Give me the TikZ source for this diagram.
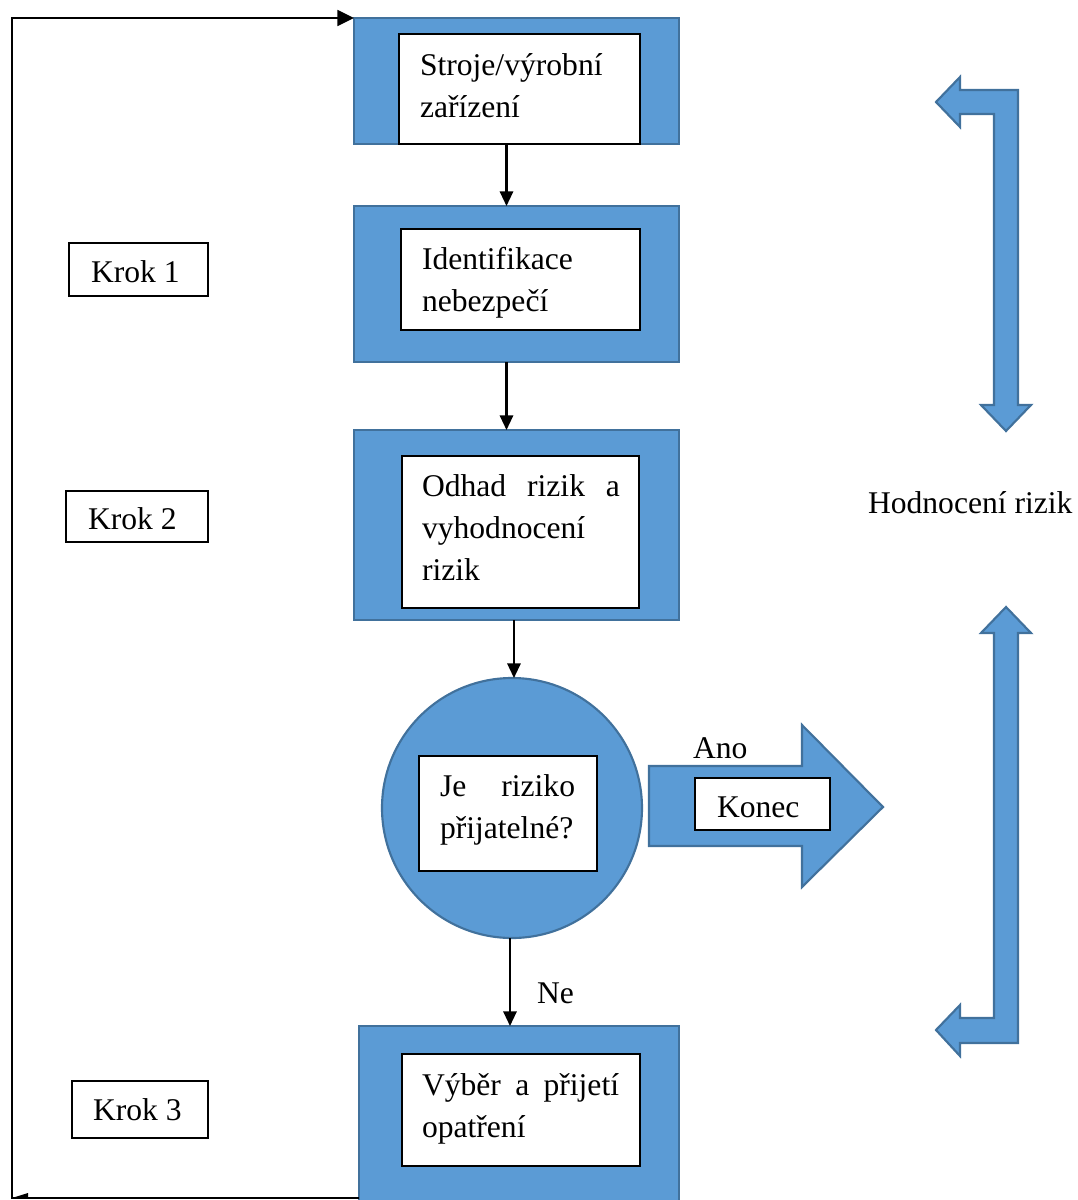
\documentclass[tikz,border=0pt]{standalone}
\usepackage{fontspec}
\setmainfont{Liberation Serif}
\usetikzlibrary{arrows.meta,fit}
\definecolor{fillblue}{HTML}{5B9BD5}
\definecolor{edgeblue}{HTML}{41719C}
\begin{document}
\begin{tikzpicture}[x=0.75pt,y=-0.75pt,
  every node/.style={inner sep=0pt,outer sep=0pt},
  txt/.style={font=\fontsize{23.7pt}{31.6pt}\selectfont,anchor=base west},
  bluebox/.style={draw=edgeblue,fill=fillblue,line width=1.6pt},
  whitebox/.style={draw=black,fill=white,line width=1pt},
  kbox/.style={draw=black,fill=white,line width=0.9pt},
  fat/.style={draw=edgeblue,fill=fillblue,line width=1.6pt,line join=miter},
  conn/.style={line width=1.6pt,-{Triangle[length=11pt,width=10pt]}},
  loop/.style={line width=1.2pt}]
\useasboundingbox (0,0) rectangle (1078,1200);

% outer blue boxes
\node[bluebox,fit={(354,18)(679,144)}] (b1) {};
\node[bluebox,fit={(354,206)(679,362)}] (b2) {};
\node[bluebox,fit={(354,430)(679,620)}] (b3) {};
\node[bluebox,fit={(359,1026)(679,1204)}] (b4) {};

% inner white boxes
\node[whitebox,fit={(399,34)(640,144)}] (w1) {};
\node[whitebox,fit={(401,229)(640,330)}] (w2) {};
\node[whitebox,fit={(402,456)(639,608)}] (w3) {};
\node[whitebox,fit={(402,1054)(640,1166)}] (w4) {};

% texts of the boxes
\node[txt] (t1) at (420,75) {\parbox[t]{150pt}{Stroje/výrobní\\zařízení}};
\node[txt] (t2) at (422,269) {\parbox[t]{150pt}{Identifikace\\nebezpečí}};
\node[txt] (t3) at (422,496) {\parbox[t]{148.5pt}{Odhad\hfill rizik\hfill a\\vyhodnocení\\rizik}};
\node[txt] (t4) at (422,1095) {\parbox[t]{147.8pt}{Výběr\hfill a\hfill přijetí\\opatření}};

% decision circle
\node[circle,draw=edgeblue,fill=fillblue,line width=1.6pt,minimum size=195pt] (c) at (512,808) {};
\node[whitebox,fit={(419,756)(597,871)}] (wc) {};
\node[txt] (tc) at (440,796) {\parbox[t]{101.3pt}{Je\hfill riziko\\přijatelné?}};

% Konec arrow
\path[fat] (649,766) -- (802,766) -- (802,725) -- (883,807) -- (802,887) -- (802,846) -- (649,846) -- cycle;
\node[kbox,fit={(695,778)(830,830)}] (kon) {};
\node[txt] (tkon) at (717,817) {Konec};
\node[txt] (ano) at (693,758) {Ano};
\node[txt] (ne) at (537,1003) {Ne};

% Krok boxes
\node[kbox,fit={(69,243)(208,296)}] (k1) {};
\node[txt] at (91,282) {Krok 1};
\node[kbox,fit={(66,491)(208,542)}] (k2) {};
\node[txt] at (88,529) {Krok 2};
\node[kbox,fit={(72,1081)(208,1138)}] (k3) {};
\node[txt] at (93,1120) {Krok 3};

% Hodnoceni rizik
\node[txt] (hr) at (868,513) {Hodnocení rizik};

% bent arrows on the right
\path[fat] (936,102) -- (960,77) -- (960,90) -- (1018,90) -- (1018,405) -- (1031,405)
  -- (1006,431) -- (981,405) -- (994,405) -- (994,114) -- (960,114) -- (960,127) -- cycle;
\path[fat] (1006,607) -- (1031,633) -- (1018,633) -- (1018,1043) -- (960,1043) -- (960,1056)
  -- (936,1030) -- (960,1005) -- (960,1018) -- (994,1018) -- (994,633) -- (981,633) -- cycle;

% connectors
\draw[conn] ([xshift=-7.5pt]b1.south) -- ([xshift=-7.5pt]b2.north);
\draw[conn] ([xshift=-7.5pt]b2.south) -- ([xshift=-7.5pt]b3.north);
\draw[conn] ([xshift=-1.9pt]b3.south) -- ([xshift=-1.9pt]b3.south |- c.north);
\draw[conn] ([xshift=-1.5pt]c.south) -- ([xshift=-1.5pt]c.south |- b4.north);

% feedback loop
\coordinate (lc) at (12,1198);
\draw[loop,-{Triangle[length=12.5pt,width=12pt]}] (b4.west |- lc) -- (lc) |- (b1.north west);
\fill (12,1198) -- (28,1193) -- (28,1198) -- cycle;
\end{tikzpicture}
\end{document}
